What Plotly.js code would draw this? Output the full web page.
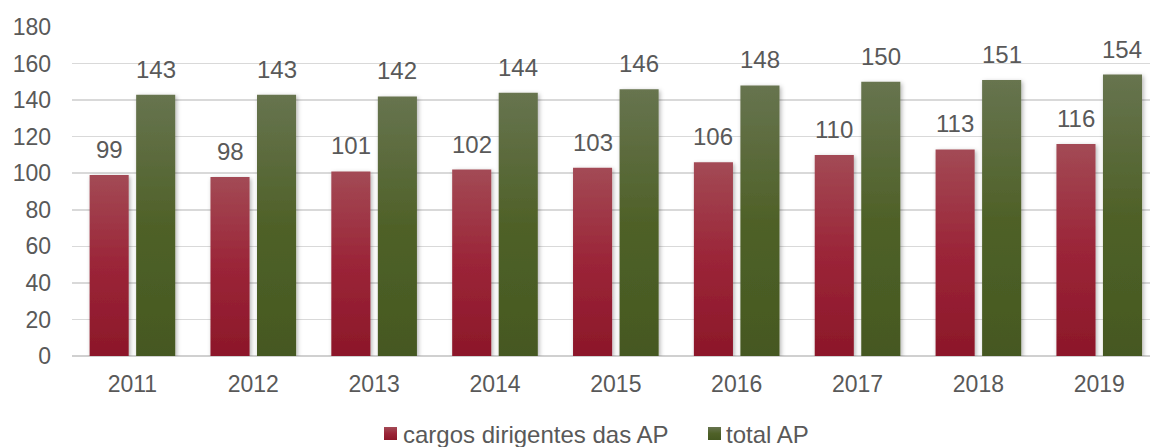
<!DOCTYPE html>
<html>
<head>
<meta charset="utf-8">
<script src="https://cdn.plot.ly/plotly-3.0.1.min.js"></script>
<style>
html,body{margin:0;padding:0;background:#fff;}
#chart{width:1150px;height:447px;}
</style>
</head>
<body>
<div id="chart"></div>
<script>
const years = ['2011','2012','2013','2014','2015','2016','2017','2018','2019'];
const cargos = [99, 98, 101, 102, 103, 106, 110, 113, 116];
const total = [143, 143, 142, 144, 146, 148, 150, 151, 154];
const seriesNames = ['cargos dirigentes das AP', 'total AP'];

const FONT = 'Liberation Sans, Arial, sans-serif';
const GRAY = '#595959';

const traces = [
  {type:'bar', x: years, y: cargos, name: seriesNames[0], marker:{color:'#9a2638'}, hoverinfo:'skip'},
  {type:'bar', x: years, y: total, name: seriesNames[1], marker:{color:'#566632'}, hoverinfo:'skip'}
];

const annotations = [];
years.forEach((yr, i) => {
  annotations.push({x: i, y: cargos[i], xref:'x', yref:'y', text: String(cargos[i]), showarrow:false,
    xanchor:'center', yanchor:'bottom', xshift:-23.25, yshift:10, font:{family:FONT, size:24, color:GRAY}});
  annotations.push({x: i, y: total[i], xref:'x', yref:'y', text: String(total[i]), showarrow:false,
    xanchor:'center', yanchor:'bottom', xshift:23.25, yshift:10, font:{family:FONT, size:24, color:GRAY}});
});

const layout = {
  width:1150, height:447,
  margin:{l:72, r:0, t:27, b:91},
  paper_bgcolor:'#fff', plot_bgcolor:'#fff',
  barmode:'group', bargap:0.23, bargroupgap:0.16,
  font:{family:FONT, size:23, color:GRAY},
  xaxis:{type:'category', range:[-0.5, 8.42], showgrid:false, zeroline:false, showline:false,
    ticks:'', tickfont:{family:FONT, size:23, color:GRAY}, ticklabelstandoff:12, fixedrange:true},
  yaxis:{range:[0,180], dtick:20, showgrid:true, gridcolor:'#d9d9d9', gridwidth:1.5,
    zeroline:true, zerolinecolor:'#d0d0d0', zerolinewidth:1.5, showline:false, ticks:'',
    tickfont:{family:FONT, size:23, color:GRAY}, ticklabelstandoff:20, fixedrange:true},
  showlegend:true,
  legend:{orientation:'h', x:0.47, xanchor:'center', y:-91/329, yanchor:'bottom',
    font:{family:FONT, size:24, color:GRAY}, itemwidth:30, tracegroupgap:0, traceorder:'normal'},
  annotations: annotations
};

function getT(el) {
  const m = el.transform.baseVal.consolidate();
  return m ? [m.matrix.e, m.matrix.f] : [0, 0];
}

Plotly.newPlot('chart', traces, layout, {staticPlot:true, displayModeBar:false}).then(gd => {
  const svg = gd.querySelector('.main-svg');
  const ns = 'http://www.w3.org/2000/svg';
  const defs = document.createElementNS(ns, 'defs');
  function grad(id, top, mid, bot) {
    const g = document.createElementNS(ns, 'linearGradient');
    g.setAttribute('id', id); g.setAttribute('x1','0'); g.setAttribute('y1','0');
    g.setAttribute('x2','0'); g.setAttribute('y2','1');
    [[0, top],[0.5, mid],[1, bot]].forEach(([o,c]) => {
      const s = document.createElementNS(ns, 'stop');
      s.setAttribute('offset', o); s.setAttribute('stop-color', c);
      g.appendChild(s);
    });
    defs.appendChild(g);
  }
  grad('gRed', '#a34a55', '#9b2538', '#8c1729');
  grad('gGreen', '#67744f', '#4f6128', '#455821');
  const f = document.createElementNS(ns, 'filter');
  f.setAttribute('id','shadow'); f.setAttribute('x','-20%'); f.setAttribute('y','-10%');
  f.setAttribute('width','150%'); f.setAttribute('height','130%');
  const ds = document.createElementNS(ns, 'feDropShadow');
  ds.setAttribute('dx','1.5'); ds.setAttribute('dy','1.5'); ds.setAttribute('stdDeviation','2');
  ds.setAttribute('flood-color','#000'); ds.setAttribute('flood-opacity','0.3');
  f.appendChild(ds); defs.appendChild(f);
  svg.insertBefore(defs, svg.firstChild);
  const traceGroups = gd.querySelectorAll('.barlayer .trace.bars');
  const ids = ['gRed','gGreen'];
  traceGroups.forEach((tg, i) => {
    tg.querySelectorAll('path').forEach(p => {
      p.style.fill = 'url(#' + ids[i] + ')';
      p.setAttribute('filter','url(#shadow)');
    });
  });

  // legend fine placement
  const sb = gd.querySelector('.legend .scrollbox');
  if (sb) sb.removeAttribute('clip-path');
  const lg = gd.querySelector('.legend');
  if (lg) lg.removeAttribute('clip-path');
  const swatchLeft = [384, 708];
  const textLeft = [403, 726];
  const centerY = 433.5;
  const legendTraces = gd.querySelectorAll('.legend .traces');
  legendTraces.forEach((lt, i) => {
    const p = lt.querySelector('.legendpoints path');
    if (p) {
      p.style.fill = 'url(#' + ids[i] + ')';
      p.setAttribute('d', 'M6.5,6.5H-6.5V-6.5H6.5Z');
      const r = p.getBoundingClientRect();
      const [tx, ty] = getT(lt);
      const dx = swatchLeft[i] - r.left;
      const dy = centerY - (r.top + r.height / 2);
      lt.setAttribute('transform', 'translate(' + (tx + dx) + ',' + (ty + dy) + ')');
    }
    const t = lt.querySelector('.legendtext');
    if (t) {
      const r = t.getBoundingClientRect();
      const x0 = parseFloat(t.getAttribute('x')) || 40;
      t.setAttribute('x', x0 + (textLeft[i] - r.left));
    }
  });
});
</script>
</body>
</html>
